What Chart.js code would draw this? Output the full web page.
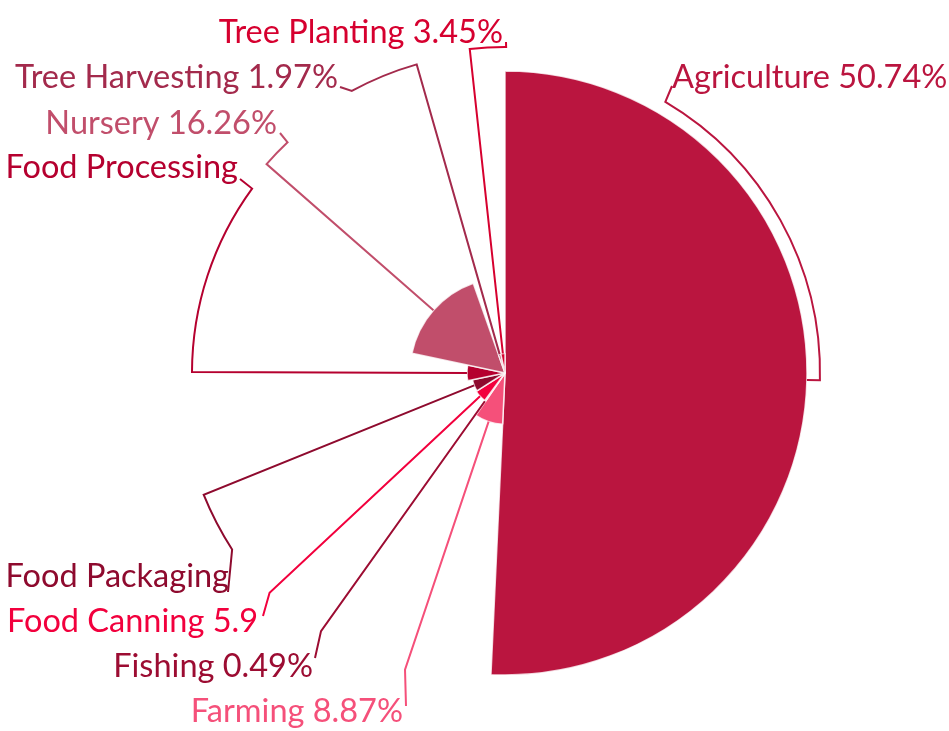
<!DOCTYPE html>
<html>
<head>
<meta charset="utf-8">
<script src="https://cdn.jsdelivr.net/npm/chart.js@4/dist/chart.umd.min.js"></script>
<style>
  html, body { margin: 0; padding: 0; background: #fff; }
  #wrap { width: 949px; height: 731px; position: relative; }
</style>
</head>
<body>
<div id="wrap"><canvas id="pieChart"></canvas></div>
<script>
// categories, clockwise from 12 o'clock
var categories = ['Agriculture', 'Farming', 'Fishing', 'Food Canning', 'Food Packaging',
                  'Food Processing', 'Nursery', 'Tree Harvesting', 'Tree Planting'];
// share of the circle (percent) -> slice angle
var shares = [50.74, 8.87, 0.49, 5.9, 5.78, 6.54, 16.26, 1.97, 3.45];
// second value -> slice radius
var radiusValues = [100, 17, 11.5, 11.3, 11, 12.6, 31.5, 6.5, 6.5];
// label text as shown
var labelTexts = ['Agriculture 50.74%', 'Farming 8.87%', 'Fishing 0.49%', 'Food Canning 5.9',
                  'Food Packaging', 'Food Processing', 'Nursery 16.26%', 'Tree Harvesting 1.97%',
                  'Tree Planting 3.45%'];

var colors = ['#BA153F', '#F5507A', '#9C0C32', '#F2003D', '#8E0A2E',
              '#B5002F', '#C14E6B', '#A32A4C', '#D6002F'];

// label layout: leader arc radius (px), arc end angle (deg, clockwise from top),
// leader end point and text anchor
var labelLayout = [
    { r: 315, a: 30.6,  end: [672, 86],  tx: 672, ty: 88,  align: 'left' },
    { r: 313, a: null,  end: [406, 706], tx: 403, ty: 722, align: 'right' },
    { r: 317, a: null,  end: [315, 658], tx: 313, ty: 677, align: 'right' },
    { r: 322, a: null,  end: [263, 616], tx: 258, ty: 632, align: 'right' },
    { r: 325, a: 237.1, end: [228, 592], tx: 229, ty: 587, align: 'right' },
    { r: 313, a: 306.1, end: [240, 179], tx: 238, ty: 178, align: 'right' },
    { r: 317, a: 316.7, end: [280, 133], tx: 277, ty: 134, align: 'right' },
    { r: 321, a: 331.5, end: [340, 87],  tx: 338, ty: 88,  align: 'right' },
    { r: 326, a: 360.2, end: [506, 42],  tx: 503, ty: 43,  align: 'right' }
];

var leaderPlugin = {
    id: 'leaders',
    afterDatasetsDraw: function(chart) {
        var ctx = chart.ctx;
        var meta = chart.getDatasetMeta(0);
        ctx.save();
        meta.data.forEach(function(arc, i) {
            var p = arc.getProps(['x', 'y', 'startAngle', 'endAngle', 'outerRadius'], true);
            var mid = (p.startAngle + p.endAngle) / 2;
            var lay = labelLayout[i];
            var target = lay.a === null ? mid : (lay.a - 90) * Math.PI / 180;
            ctx.beginPath();
            ctx.strokeStyle = colors[i];
            ctx.lineWidth = 2;
            ctx.lineJoin = 'miter';
            ctx.moveTo(p.x + Math.cos(mid) * p.outerRadius, p.y + Math.sin(mid) * p.outerRadius);
            ctx.lineTo(p.x + Math.cos(mid) * lay.r, p.y + Math.sin(mid) * lay.r);
            if (target !== mid) {
                ctx.arc(p.x, p.y, lay.r, mid, target, target < mid);
            }
            ctx.lineTo(lay.end[0], lay.end[1]);
            ctx.stroke();

            ctx.fillStyle = colors[i];
            ctx.font = '32.5px Lato';
            ctx.textAlign = lay.align;
            ctx.textBaseline = 'alphabetic';
            ctx.fillText(labelTexts[i], lay.tx, lay.ty);
        });
        ctx.restore();
    }
};

var ctx = document.getElementById('pieChart').getContext('2d');
var pieChart = new Chart(ctx, {
    type: 'polarArea',
    data: {
        labels: categories,
        datasets: [{
            data: radiusValues,
            angle: shares.map(function(s) { return s * 3.6; }),
            backgroundColor: colors,
            borderColor: 'rgba(255, 255, 255, 0.8)',
            borderWidth: 1.5
        }]
    },
    options: {
        responsive: true,
        maintainAspectRatio: false,
        animation: false,
        layout: { padding: { left: 203, right: 142, top: 71, bottom: 56 } },
        plugins: {
            legend: { display: false },
            tooltip: { enabled: false }
        },
        scales: {
            r: {
                display: false,
                min: 0,
                max: 100,
                startAngle: 0,
                ticks: { display: false }
            }
        }
    },
    plugins: [leaderPlugin]
});
</script>
</body>
</html>
